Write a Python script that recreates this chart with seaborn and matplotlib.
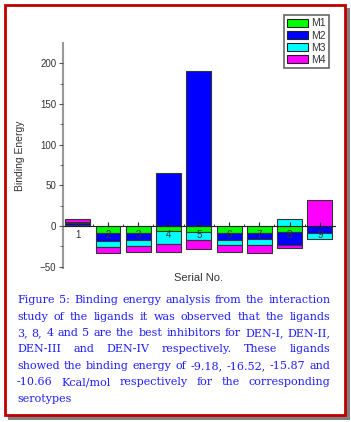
import numpy as np
import seaborn as sns
import matplotlib.pyplot as plt
from matplotlib.patches import Rectangle, Patch

# valores (energia de ligação por ligante)
serial = [1, 2, 3, 4, 5, 6, 7, 8, 9]
m1 = [1.8, -8.2, -9.18, -6.1, -7.4, -8.2, -8.2, -7.0, 0.0]
m2 = [2.0, -10.2, -8.2, 65.0, 190.0, -9.0, -7.4, -16.52, -8.2]
m3 = [1.6, -7.8, -7.4, -15.87, -9.8, -6.1, -7.8, 8.6, -7.4]
m4 = [2.6, -7.4, -7.4, -9.8, -10.66, -8.2, -10.2, -4.1, 32.0]
series = ['M1', 'M2', 'M3', 'M4']
colors = ['#00ff00', '#0000ff', '#00ffff', '#ff00ff']

caption = [
    "Figure 5: Binding energy analysis from the interaction",
    "study of the ligands it was observed that the ligands",
    "3, 8, 4 and 5 are the best inhibitors for DEN-I, DEN-II,",
    "DEN-III and DEN-IV respectively. These ligands",
    "showed the binding energy of -9.18, -16.52, -15.87 and",
    "-10.66 Kcal/mol respectively for the corresponding",
    "serotypes",
]

W, H = 351, 422
sns.set_style('white')
plt.rcParams['font.family'] = ['Liberation Sans', 'DejaVu Sans']

fig = plt.figure(figsize=(W / 100, H / 100), dpi=100)
fig.patch.set_facecolor('white')


def fx(px):
    return px / W


def fy(py):
    return 1 - py / H


# moldura vermelha com sombra
fig.patches.append(Rectangle((fx(8), fy(420)), fx(342), (420 - 8) / H, transform=fig.transFigure,
                             facecolor='#808080', edgecolor='none', zorder=-20))
fig.patches.append(Rectangle((fx(4.5), fy(415)), fx(340.5), (415 - 4.5) / H, transform=fig.transFigure,
                             facecolor='white', edgecolor='#c00000', linewidth=2.0, zorder=-10))

ax = fig.add_axes([fx(62.7), fy(268.3), fx(272.3), 225.3 / H])
ax.set_facecolor('none')

# barras empilhadas (positivos e negativos separados)
data = np.array([m1, m2, m3, m4])
pos_base = np.zeros(len(serial))
neg_base = np.zeros(len(serial))
for vals, col in zip(data, colors):
    bottom = np.where(vals >= 0, pos_base, neg_base)
    sns.barplot(x=serial, y=vals, bottom=bottom, color=col, saturation=1, native_scale=True,
                width=0.82, errorbar=None, edgecolor='#333333', linewidth=0.8, ax=ax)
    pos_base = pos_base + np.where(vals >= 0, vals, 0)
    neg_base = neg_base + np.where(vals < 0, vals, 0)

ax.set_axisbelow(False)
ax.set_xlim(0.5, 9.5)
ax.set_ylim(-52, 225)
ax.set_xticks(serial)
ax.set_xticklabels([str(s) for s in serial])
ax.set_xticks(np.arange(1.5, 9.5, 1), minor=True)
ax.set_yticks([-50, 0, 50, 100, 150, 200])
ax.set_yticks(np.arange(-25, 225, 50), minor=True)

for s in ['top', 'right']:
    ax.spines[s].set_visible(False)
ax.spines['left'].set_color('#999999')
ax.spines['left'].set_linewidth(1.5)
ax.spines['bottom'].set_position(('data', 0))
ax.spines['bottom'].set_color('#222222')
ax.spines['bottom'].set_linewidth(0.8)

ax.tick_params(axis='x', which='major', direction='in', length=3, pad=3, labelsize=7,
               labelcolor='#333333', color='#222222', bottom=True)
ax.tick_params(axis='x', which='minor', direction='in', length=1.5, color='#222222', bottom=True)
ax.tick_params(axis='y', which='major', direction='out', length=3, pad=1.5, labelsize=7,
               labelcolor='#333333', color='#555555', left=True)
ax.tick_params(axis='y', which='minor', direction='out', length=2, color='#555555', left=True)

ax.set_ylabel('Binding Energy', fontsize=7.5, color='#333333')
ax.yaxis.set_label_coords(-0.14, 0.5)
ax.set_xlabel('Serial No.', fontsize=8, color='#333333')
ax.xaxis.set_label_coords(0.497, -0.02)

handles = [Patch(facecolor=c, edgecolor='#222222', linewidth=0.8) for c in colors]
leg = fig.legend(handles, series, loc='upper right', bbox_to_anchor=(fx(329), fy(15.3)),
                 borderaxespad=0, fontsize=7.5, handlelength=2.0, handleheight=0.75,
                 handletextpad=0.3, labelspacing=0.2, borderpad=0.3, fancybox=False,
                 framealpha=1, labelcolor='#333333')
leg.get_frame().set_edgecolor('#666666')
leg.get_frame().set_linewidth(1.2)

# legenda da figura, justificada
renderer = fig.canvas.get_renderer()
cap_font = ['DejaVu Serif']
x0, x1 = 17.0, 330.5
probe = [fig.text(0, 0, ln, fontsize=10, family=cap_font) for ln in caption[:-1]]
natural = max(t.get_window_extent(renderer).width for t in probe)
for t in probe:
    t.remove()
cap_size = 10 * (x1 - x0) / natural * 0.99

sp1 = fig.text(0, 0, 'a a', fontsize=cap_size, family=cap_font)
sp2 = fig.text(0, 0, 'aa', fontsize=cap_size, family=cap_font)
space_w = sp1.get_window_extent(renderer).width - sp2.get_window_extent(renderer).width
sp1.remove()
sp2.remove()

for i, line in enumerate(caption):
    base = 303.3 + 16.4 * i
    words = line.split()
    texts = [fig.text(0, fy(base), w, fontsize=cap_size, family=cap_font, color='#1f1fff',
                      va='baseline', ha='left') for w in words]
    widths = [t.get_window_extent(renderer).width for t in texts]
    if i == len(caption) - 1 or len(words) == 1:
        gap = space_w
    else:
        gap = (x1 - x0 - sum(widths)) / (len(words) - 1)
    x = x0
    for t, w in zip(texts, widths):
        t.set_x(fx(x))
        x += w + gap

fig.savefig('out.png', dpi=100)
